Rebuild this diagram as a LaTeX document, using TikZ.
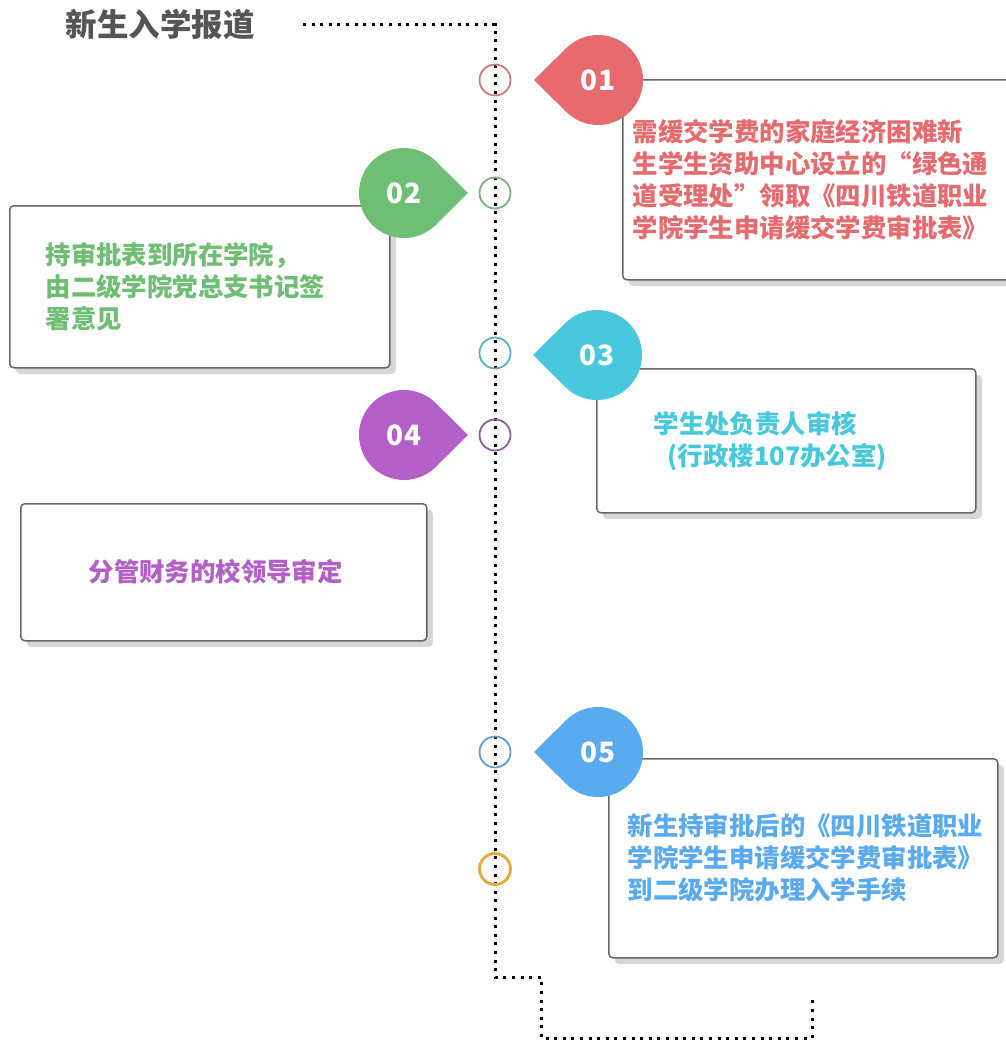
\documentclass[tikz,border=0pt]{standalone}
\usepackage{fontspec}
\setmainfont{Noto Sans CJK SC}
\usepackage{xcolor}
\usepackage{tikz}
\usetikzlibrary{shadows}

\definecolor{titlegray}{HTML}{555555}
\definecolor{cardgray}{HTML}{676767}
\definecolor{redA}{HTML}{E56B6F}
\definecolor{greenA}{HTML}{6EBE73}
\definecolor{cyanA}{HTML}{48C8DC}
\definecolor{purpleA}{HTML}{B45FC8}
\definecolor{blueA}{HTML}{5AAAF0}
\definecolor{redR}{HTML}{CD7A7A}
\definecolor{greenR}{HTML}{7FAF7F}
\definecolor{cyanR}{HTML}{5AAFBE}
\definecolor{purpleR}{HTML}{8E5CA3}
\definecolor{blueR}{HTML}{6A98C6}
\definecolor{orangeR}{HTML}{E8A835}

\begin{document}
\begin{tikzpicture}[x=1pt, y=-1pt,
    dots/.style={line width=3pt, dash pattern=on 3pt off 5.6pt},
    ring/.style={circle, draw, line width=1.8pt, minimum size=31pt, inner sep=0pt, outer sep=0pt},
    drop/.style={circle, minimum size=90pt, inner sep=0pt, outer sep=0pt, text=white,
        font=\bfseries\fontsize{28}{28}\selectfont},
    card/.style={draw=cardgray, line width=1.5pt, rounded corners=4pt, fill=white,
        anchor=north west, align=left, inner ysep=0pt,
        font=\bfseries\fontsize{25.4}{32}\selectfont,
        drop shadow={shadow xshift=6pt, shadow yshift=-6pt, fill=black!16, opacity=1}}]
    \useasboundingbox (0,0) rectangle (1005,1041);

    \node [text=titlegray, font=\bfseries\fontsize{31.5}{31.5}\selectfont] (title) at (160,25) {新生入学报道};

    \coordinate (start) at (303,25);
    \coordinate (finish) at (812,995);
    \draw [dots] (start) -- (495,25) -- (495,977) -- (541,977) -- (541,1038) -- (812,1038) -- (finish);

    \node [card, text=redA, minimum height=200pt, text width=430pt, inner xsep=10pt] (card1) at (622,79)
        {需缓交学费的家庭经济困难新\\生学生资助中心设立的“绿色通\\道受理处”领取《四川铁道职业\\学院学生申请缓交学费审批表》};
    \node [card, text=greenA, minimum height=162pt, text width=308pt, inner xsep=36pt] (card2) at (9,205)
        {持审批表到所在学院，\\由二级学院党总支书记签\\署意见};
    \node [card, text=cyanA, minimum height=144pt, text width=265pt, inner xsep=57pt] (card3) at (596,368)
        {学生处负责人审核\\\hspace*{14pt}(行政楼107办公室)};
    \node [card, text=purpleA, minimum height=137pt, text width=270pt, inner xsep=68pt] (card4) at (20,503)
        {分管财务的校领导审定};
    \node [card, text=blueA, minimum height=199pt, text width=351pt, inner xsep=19pt] (card5) at (608,758)
        {新生持审批后的《四川铁道职业\\学院学生申请缓交学费审批表》\\到二级学院办理入学手续};

    \node [drop, fill=redA] (drop1) at (598,80) {01};
    \fill [redA] (drop1.135) -- (534,80) -- (drop1.225) -- cycle;
    \node [drop, fill=greenA] (drop2) at (404,193) {02};
    \fill [greenA] (drop2.45) -- (468,193) -- (drop2.-45) -- cycle;
    \node [drop, fill=cyanA] (drop3) at (597,355) {03};
    \fill [cyanA] (drop3.135) -- (533,355) -- (drop3.225) -- cycle;
    \node [drop, fill=purpleA] (drop4) at (404,435) {04};
    \fill [purpleA] (drop4.45) -- (468,435) -- (drop4.-45) -- cycle;
    \node [drop, fill=blueA] (drop5) at (598,752) {05};
    \fill [blueA] (drop5.135) -- (534,752) -- (drop5.225) -- cycle;

    \node [ring, draw=redR] (ring1) at (495,80) {};
    \node [ring, draw=greenR] (ring2) at (495,193) {};
    \node [ring, draw=cyanR] (ring3) at (495,353) {};
    \node [ring, draw=purpleR] (ring4) at (495,435) {};
    \node [ring, draw=blueR] (ring5) at (495,752) {};
    \node [ring, draw=orangeR, line width=2.8pt] (ring6) at (495,869) {};
\end{tikzpicture}
\end{document}
